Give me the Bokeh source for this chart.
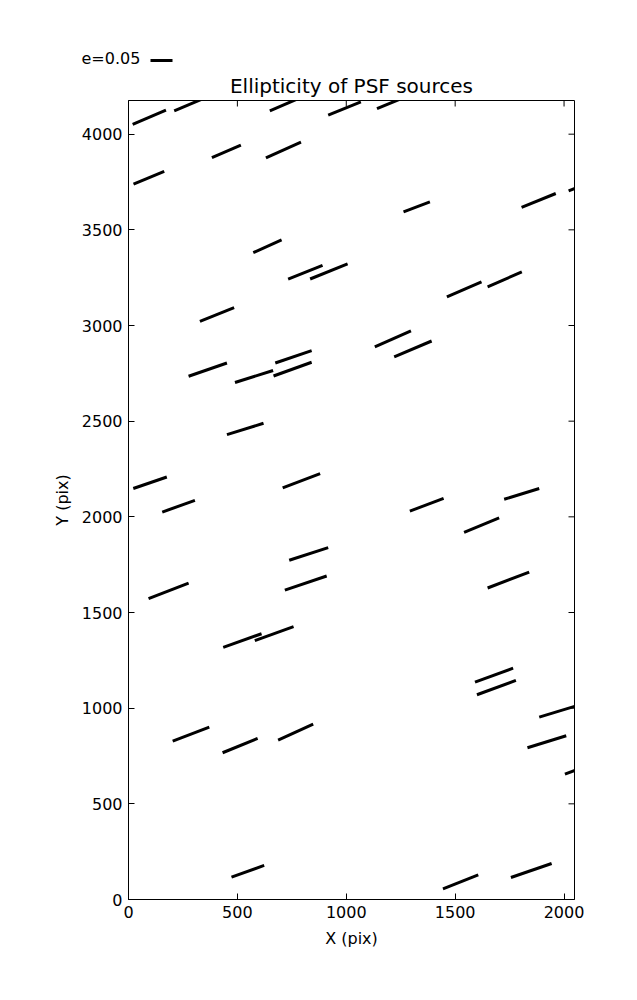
import math
from bokeh.plotting import figure
from bokeh.layouts import column
from bokeh.models import Range1d, FixedTicker
from bokeh.core.properties import value
from bokeh.embed import file_html
from bokeh.resources import INLINE

# PSF ellipticity sticks: start/end points in pixel coordinates of the detector
x_start = [19, 210, 649, 917, 1141, 383, 631, 23, 1263, 1805, 2021, 573, 733, 834, 1462, 1649,
           328, 1131, 1220, 276, 489, 674, 666, 452, 22, 708, 155, 1292, 1725, 1541, 738, 92,
           718, 1649, 435, 580, 1591, 1600, 1886, 203, 432, 687, 1832, 2004, 473, 1444, 1756]
y_start = [4051, 4122, 4122, 4099, 4134, 3878, 3876, 3739, 3594, 3617, 3704, 3381, 3242, 3243, 3149, 3202,
           3022, 2888, 2836, 2735, 2702, 2804, 2736, 2430, 2148, 2151, 2025, 2030, 2092, 1919, 1773, 1572,
           1617, 1628, 1318, 1353, 1136, 1070, 953, 828, 767, 833, 793, 655, 117, 56, 115]
x_end = [172, 360, 796, 1067, 1292, 516, 792, 164, 1384, 1962, 2178, 703, 891, 1006, 1621, 1806,
         485, 1297, 1392, 452, 664, 841, 841, 620, 176, 880, 305, 1447, 1886, 1702, 917, 276,
         910, 1840, 611, 758, 1766, 1779, 2059, 371, 593, 848, 2010, 2160, 623, 1606, 1943]
y_end = [4126, 4194, 4194, 4169, 4204, 3943, 3958, 3805, 3646, 3690, 3775, 3447, 3314, 3322, 3228, 3280,
         3094, 2972, 2919, 2804, 2765, 2869, 2808, 2489, 2208, 2226, 2086, 2097, 2148, 1994, 1839, 1654,
         1691, 1711, 1389, 1426, 1209, 1145, 1013, 901, 842, 917, 856, 722, 178, 129, 188]

x_ticks = [0, 500, 1000, 1500, 2000]
y_ticks = [0, 500, 1000, 1500, 2000, 2500, 3000, 3500, 4000]
x_max = 2048
y_max = 4176

title_text = "Ellipticity of PSF sources"
key_text = "e=0.05"

FONT = "DejaVu Sans"
W = 620
HEAD_H = 98

# ---------- header (title + ellipticity key), coordinates in screen pixels ----------
head = figure(width=W, height=HEAD_H, output_backend="svg", toolbar_location=None,
              x_range=Range1d(0, W), y_range=Range1d(HEAD_H, 0),
              x_axis_type=None, y_axis_type=None, title=None,
              min_border=0, min_border_left=0, min_border_right=0,
              min_border_top=0, min_border_bottom=0)
head.frame_align = False
head.grid.visible = False
head.outline_line_color = None
head.text(x=[351], y=[85], text=[title_text], text_align="center", text_baseline="alphabetic",
          text_font=value(FONT), text_font_size="20px", text_color="black")
head.text(x=[81], y=[58], text=[key_text], text_align="left", text_baseline="alphabetic",
          text_font=value(FONT), text_font_size="16px", text_color="black")
head.segment(x0=[150], y0=[60], x1=[172], y1=[60], line_width=3, line_color="black", line_cap="butt")

# ---------- main plot ----------
p = figure(width=W, height=881, output_backend="svg", toolbar_location=None, title=None,
           x_range=Range1d(0, x_max), y_range=Range1d(0, y_max),
           min_border_left=128, min_border_right=46, min_border_top=2, min_border_bottom=80)
p.frame_align = False
p.grid.visible = False
p.background_fill_color = "white"
p.border_fill_color = "white"
p.outline_line_color = "black"
p.outline_line_width = 1
p.outline_line_alpha = 1

p.segment(x_start, y_start, x_end, y_end, line_width=3, line_color="black", line_cap="butt")

# inward ticks on the top and right edges of the frame
p.ray(x=x_ticks, y=[y_max] * len(x_ticks), length=6, length_units="screen",
      angle=-math.pi / 2, line_color="black", line_width=1)
p.ray(x=[x_max] * len(y_ticks), y=y_ticks, length=6, length_units="screen",
      angle=math.pi, line_color="black", line_width=1)

p.xaxis.ticker = FixedTicker(ticks=x_ticks)
p.yaxis.ticker = FixedTicker(ticks=y_ticks)
p.xaxis.axis_label = "X (pix)"
p.yaxis.axis_label = "Y (pix)"
for ax in p.xaxis + p.yaxis:
    ax.major_tick_in = 6
    ax.major_tick_out = 0
    ax.minor_tick_line_color = None
    ax.major_tick_line_color = "black"
    ax.axis_line_color = "black"
    ax.major_label_text_font = FONT
    ax.major_label_text_font_size = "16px"
    ax.major_label_text_color = "black"
    ax.axis_label_text_font = FONT
    ax.axis_label_text_font_size = "16px"
    ax.axis_label_text_font_style = "normal"
    ax.axis_label_text_color = "black"
p.xaxis.major_label_standoff = 6
p.yaxis.major_label_standoff = 6
p.xaxis.axis_label_standoff = 8
p.yaxis.axis_label_standoff = 7

layout = column(head, p, spacing=0)
open("out.html", "w").write(file_html(layout, INLINE))
